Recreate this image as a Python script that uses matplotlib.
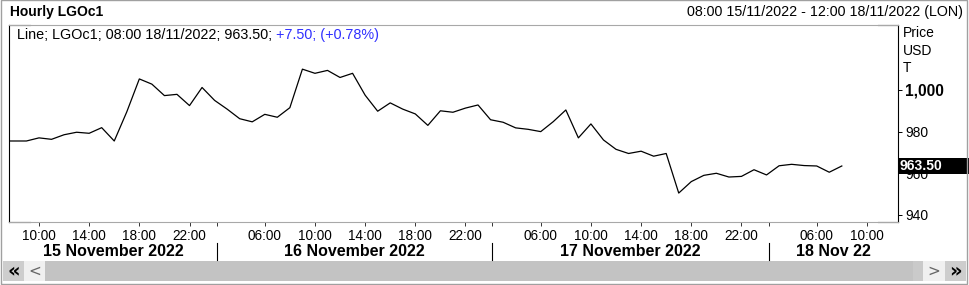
import numpy as np
import matplotlib
matplotlib.use('Agg')
import matplotlib.pyplot as plt
from matplotlib.patches import Rectangle
from matplotlib.lines import Line2D
from matplotlib.transforms import blended_transform_factory

plt.rcParams['font.family'] = ['Liberation Sans', 'DejaVu Sans']

# hourly bars (closed hours skipped), index 0 = 08:00 15 Nov 2022
bar_idx = np.arange(-1, 67)
price = [975.5, 975.5, 975.5, 977.0, 976.3, 978.5, 979.7, 979.2, 981.9, 975.5,
         989.5, 1005.3, 1002.8, 997.3, 997.9, 992.5, 1001.2, 995.0, 990.8, 986.2,
         984.7, 988.3, 986.9, 991.5, 1010.0, 1008.0, 1009.4, 1006.0, 1008.0, 997.5,
         989.8, 993.8, 990.8, 988.5, 983.0, 990.0, 989.3, 991.3, 992.8, 985.7,
         984.5, 981.8, 981.1, 980.0, 984.8, 990.4, 977.0, 983.7, 976.0, 971.5,
         969.5, 970.6, 968.2, 969.5, 950.5, 956.0, 959.0, 960.0, 958.2, 958.5,
         961.7, 959.2, 963.6, 964.3, 963.7, 963.5, 960.5, 963.5]

hour_pos = [2, 6, 10, 14, 20, 24, 28, 32, 36, 42, 46, 50, 54, 58, 64, 68]
hour_labels = ['10:00', '14:00', '18:00', '22:00',
               '06:00', '10:00', '14:00', '18:00', '22:00',
               '06:00', '10:00', '14:00', '18:00', '22:00',
               '06:00', '10:00']
day_breaks = [16.2, 38.1, 60.2]
day_labels = ['15 November 2022', '16 November 2022', '17 November 2022', '18 Nov 22']
y_ticks = [940, 960, 980, 1000]
y_labels = ['940', '960', '980', '1,000']
last_price = 963.50

W, H = 969, 285
def fx(x):
    return x / W
def fy(y):
    return 1 - y / H

fig = plt.figure(figsize=(W / 100, H / 100), dpi=100, facecolor='white')
ax = fig.add_axes([fx(9), fy(222), (898 - 9) / W, (222 - 25) / H])

ax.plot(bar_idx, price, color='black', lw=0.9)
x0, x1 = -0.39, 70.48
ax.set_xlim(x0, x1)
ax.set_ylim(936.6, 1031.2)

# spines
for s in ['left', 'right']:
    ax.spines[s].set_color('black')
    ax.spines[s].set_linewidth(0.8)
for s in ['top', 'bottom']:
    ax.spines[s].set_color('#a8a8a8')
    ax.spines[s].set_linewidth(0.8)
for xs, ys in [([0, 0.024], [1, 1]), ([0, 0.024], [0, 0]),
               ([0.977, 1], [1, 1]), ([0.977, 1], [0, 0])]:
    ax.plot(xs, ys, color='black', lw=0.8, transform=ax.transAxes, clip_on=False)

# y axis on the right
ax.yaxis.tick_right()
ax.set_yticks(y_ticks, y_labels)
ax.tick_params(axis='y', length=2.9, width=0.7, pad=2.2, labelsize=10)
ax.get_yticklabels()[-1].set_fontweight('bold')
ax.get_yticklabels()[-1].set_fontsize(11.2)

# x axis
ax.set_xticks(hour_pos, hour_labels)
ax.set_xticks(day_breaks, minor=True)
ax.tick_params(axis='x', which='both', length=3, width=0.7, pad=1.8,
               labelsize=9.8, color='#333333')

tr_day = blended_transform_factory(ax.transData, fig.transFigure)
edges = [x0] + day_breaks + [x1]
for i, lab in enumerate(day_labels):
    fig.text((edges[i] + edges[i + 1]) / 2, fy(251), lab, transform=tr_day,
             ha='center', va='center', fontsize=11.5, fontweight='bold')
for b in day_breaks:
    fig.add_artist(Line2D([b, b], [fy(243), fy(260)], transform=tr_day,
                          color='black', lw=0.8))

# header
fig.text(fx(10), fy(12), 'Hourly LGOc1', ha='left', va='center',
         fontsize=10, fontweight='bold')
fig.text(fx(963), fy(12), '08:00 15/11/2022 - 12:00 18/11/2022 (LON)',
         ha='right', va='center', fontsize=10.3)

t1 = fig.text(fx(17), fy(35), 'Line; LGOc1; 08:00 18/11/2022; 963.50;',
              ha='left', va='center', fontsize=10.4)
ax.annotate(' +7.50; (+0.78%)', xy=(1, 0.5), xycoords=t1, ha='left', va='center',
            fontsize=10.4, color='#3030ff')

for txt, yy in [('Price', 33), ('USD', 51), ('T', 68)]:
    fig.text(fx(903), fy(yy), txt, ha='left', va='center', fontsize=10)

# last price box
tr_box = blended_transform_factory(fig.transFigure, ax.transData)
fig.add_artist(Rectangle((fx(898), last_price - 4), 1 - fx(898), 8,
                         transform=tr_box, facecolor='black', edgecolor='none'))
fig.text(fx(899), last_price, f'{last_price:.2f}', transform=tr_box,
         ha='left', va='center', color='white', fontsize=10, fontweight='bold')

# scroll bar
def box(xa, xb, col):
    fig.add_artist(Rectangle((fx(xa), fy(281)), (xb - xa) / W, 20 / H,
                             transform=fig.transFigure, facecolor=col,
                             edgecolor='none'))
box(3, 24, '#cdcdcd')
box(24, 45, '#f0f0f0')
box(45, 913, '#c3c3c3')
box(913, 923, '#cacaca')
box(923, 945, '#f0f0f0')
box(945, 966, '#cdcdcd')
fig.text(fx(13.5), fy(271), '\u00ab', ha='center', va='center', fontsize=14,
         fontweight='bold', family='DejaVu Sans')
fig.text(fx(34.5), fy(271), '<', ha='center', va='center', fontsize=11,
         color='#666666', family='DejaVu Sans')
fig.text(fx(934), fy(271), '>', ha='center', va='center', fontsize=11,
         color='#666666', family='DejaVu Sans')
fig.text(fx(955.5), fy(271), '\u00bb', ha='center', va='center', fontsize=14,
         fontweight='bold', family='DejaVu Sans')

# window border
fig.add_artist(Rectangle((fx(1), fy(284)), 966 / W, 284 / H,
                         transform=fig.transFigure, fill=False,
                         edgecolor='#a0a0a0', lw=1))

fig.savefig('out.png', dpi=100, facecolor='white')
